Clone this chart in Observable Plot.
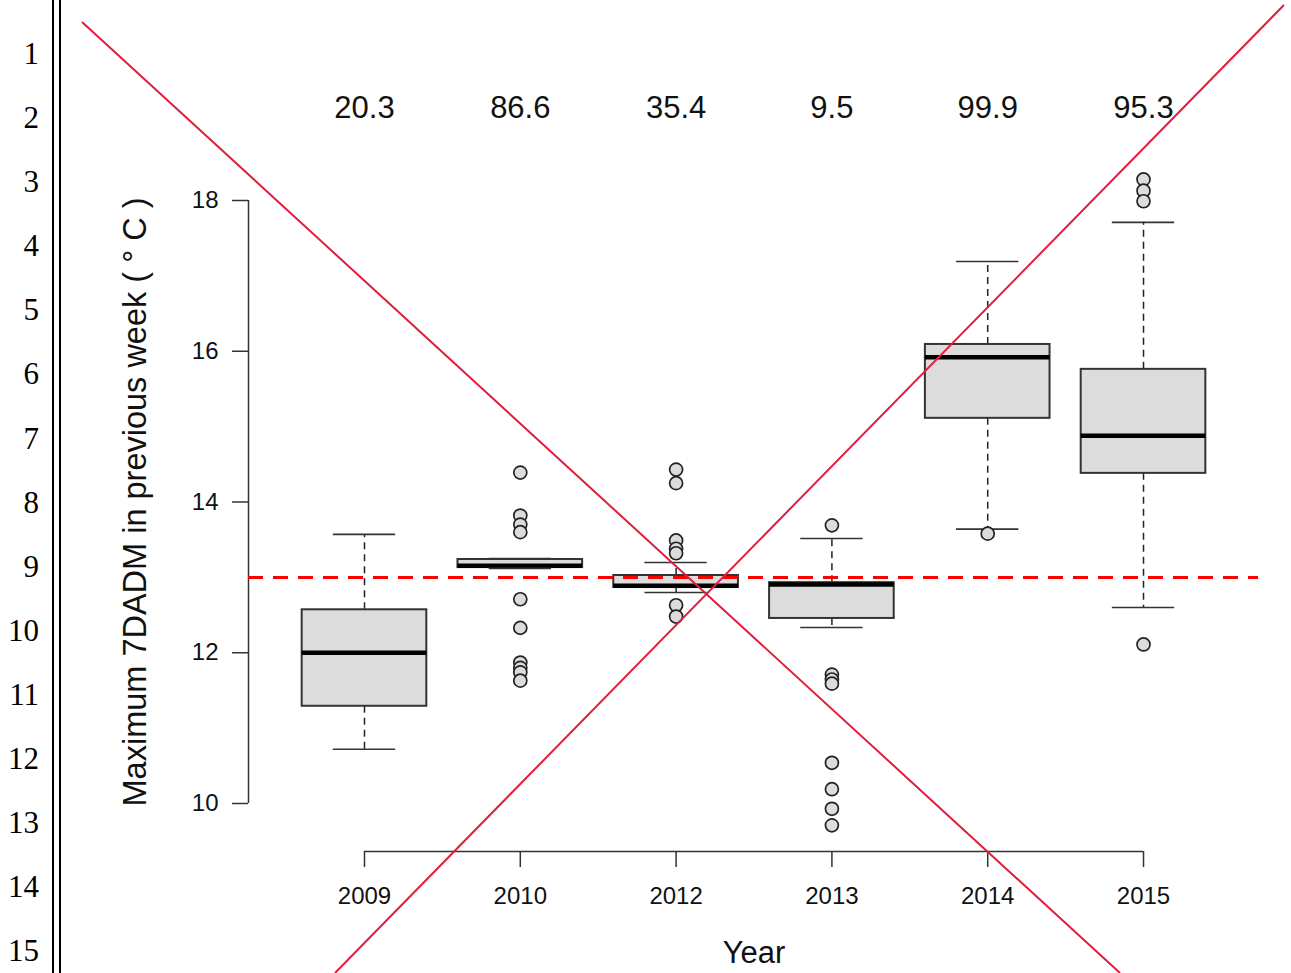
<!DOCTYPE html>
<html>
<head>
<meta charset="utf-8">
<script src="https://cdn.jsdelivr.net/npm/d3@7"></script>
<script src="https://cdn.jsdelivr.net/npm/@observablehq/plot@0.6"></script>
<style>
  html, body { margin: 0; padding: 0; background: #fff; }
  #page { position: relative; width: 1291px; height: 973px; overflow: hidden; background: #fff; }
  #chart { position: absolute; left: 0; top: 0; }
  #linenos { position: absolute; left: 0; top: 22px; width: 39px; font-family: "Liberation Serif", "Times New Roman", serif; font-size: 31px; text-align: right; color: #000; }
  #linenos div { height: 64.1px; line-height: 64.1px; }
  .vrule { position: absolute; top: 0; height: 973px; width: 2px; background: #000; }
  #overlay { position: absolute; left: 0; top: 0; pointer-events: none; }
</style>
</head>
<body>
<div id="page">
  <div id="chart"></div>
  <div id="linenos"></div>
  <div class="vrule" style="left:52px"></div>
  <div class="vrule" style="left:59px"></div>
</div>
<script>
// ---- data ----
const years = ["2009", "2010", "2012", "2013", "2014", "2015"];
const pctLabels = ["20.3", "86.6", "35.4", "9.5", "99.9", "95.3"];
const whiskerLo = [10.72, 13.12, 12.80, 12.335, 13.64, 12.60];
const q1 = [11.29, 13.13, 12.865, 12.455, 15.11, 14.38];
const median = [12.00, 13.155, 12.89, 12.905, 15.92, 14.88];
const q3 = [12.57, 13.237, 13.025, 12.93, 16.09, 15.76];
const whiskerHi = [13.57, 13.25, 13.197, 13.516, 17.19, 17.71];
const outliers2009 = [];
const outliers2010 = [14.39, 13.82, 13.70, 13.60, 12.71, 12.33, 11.87, 11.80, 11.74, 11.63];
const outliers2012 = [14.43, 14.25, 13.49, 13.38, 13.32, 12.63, 12.48];
const outliers2013 = [13.69, 11.71, 11.645, 11.59, 10.54, 10.19, 9.93, 9.71];
const outliers2014 = [13.58];
const outliers2015 = [18.28, 18.13, 17.99, 12.11];
const threshold = 13;
const yTicks = [10, 12, 14, 16, 18];
const yLabel = "Maximum 7DADM in previous week ( \u00b0 C )";
const xLabel = "Year";
const lineNumbers = [1, 2, 3, 4, 5, 6, 7, 8, 9, 10, 11, 12, 13, 14, 15];

// ---- layout constants ----
const xLo = 0.2555, xHi = 6.738;   // plot region in x units
const yLo = 9.363;                 // x-axis line position in y units
const pctY = 19.22;                // percent labels row

const boxes = years.map((y, i) => ({
  pos: i + 1, lo: whiskerLo[i], q1: q1[i], med: median[i], q3: q3[i], hi: whiskerHi[i]
}));
const outlierRows = [outliers2009, outliers2010, outliers2012, outliers2013, outliers2014, outliers2015]
  .flatMap((arr, i) => arr.map(v => ({pos: i + 1, v})));

const chart = Plot.plot({
  width: 1291,
  height: 973,
  marginLeft: 248,
  marginRight: 33,
  marginTop: 0,
  marginBottom: 122,
  style: {fontFamily: "'Liberation Sans', Arial, Helvetica, sans-serif", fontSize: "24px", background: "white", color: "#111"},
  x: {type: "linear", domain: [xLo, xHi], range: [248, 1258]},
  y: {type: "linear", domain: [10, 18], range: [803, 200]},
  marks: [
    // axes
    Plot.axisY({ticks: yTicks, tickSize: 16, tickPadding: 14, fontSize: 24, stroke: "#333", strokeWidth: 1.5, label: null}),
    Plot.ruleX([xLo], {y1: 10, y2: 18, stroke: "#333", strokeWidth: 1.5}),
    Plot.axisX({ticks: [1, 2, 3, 4, 5, 6], tickFormat: d => years[d - 1], tickSize: 16, tickPadding: 19, fontSize: 24, stroke: "#333", strokeWidth: 1.5, label: null}),
    Plot.ruleY([yLo], {x1: 1, x2: 6, stroke: "#333", strokeWidth: 1.5}),
    // whiskers
    Plot.ruleX(boxes, {x: "pos", y1: "q3", y2: "hi", stroke: "#222", strokeWidth: 1.5, strokeDasharray: "7,5"}),
    Plot.ruleX(boxes, {x: "pos", y1: "q1", y2: "lo", stroke: "#222", strokeWidth: 1.5, strokeDasharray: "7,5"}),
    // boxes
    Plot.rect(boxes, {x1: d => d.pos - 0.4, x2: d => d.pos + 0.4, y1: "q1", y2: "q3", fill: "#dcdcdc", stroke: "#333", strokeWidth: 2}),
    Plot.ruleY(boxes, {y: "med", x1: d => d.pos - 0.4, x2: d => d.pos + 0.4, stroke: "#000", strokeWidth: 4.5}),
    // staples
    Plot.ruleY(boxes, {y: "hi", x1: d => d.pos - 0.2, x2: d => d.pos + 0.2, stroke: "#333", strokeWidth: 1.6}),
    Plot.ruleY(boxes, {y: "lo", x1: d => d.pos - 0.2, x2: d => d.pos + 0.2, stroke: "#333", strokeWidth: 1.6}),
    // outliers
    Plot.dot(outlierRows, {x: "pos", y: "v", r: 6.5, fill: "#dcdcdc", stroke: "#222", strokeWidth: 1.7}),
    // threshold
    Plot.ruleY([threshold], {x1: xLo, x2: xHi, stroke: "#ff0000", strokeWidth: 3, strokeDasharray: "15,10"}),
    // labels
    Plot.text(pctLabels, {x: (d, i) => i + 1, y: pctY, text: d => d, fontSize: 31, fill: "#111"}),
    Plot.text([xLabel], {x: 3.5, y: yLo, dy: 102, text: d => d, fontSize: 31, fill: "#111"}),
    Plot.text([yLabel], {x: xLo, y: 14, dx: -113, rotate: -90, text: d => d, fontSize: 32.5, fill: "#111"})
  ]
});
document.getElementById("chart").appendChild(chart);

// line numbers of the document margin
const ln = d3.select("#linenos");
ln.selectAll("div").data(lineNumbers).join("div").text(d => d);

// red cross-out overlay
const crossLines = [[82, 22, 1120, 973], [335, 973, 1284, 5]];
const ov = d3.select("#page").append("svg").attr("id", "overlay").attr("width", 1291).attr("height", 973);
ov.selectAll("line").data(crossLines).join("line")
  .attr("x1", d => d[0]).attr("y1", d => d[1]).attr("x2", d => d[2]).attr("y2", d => d[3])
  .attr("stroke", "#e31c3d").attr("stroke-width", 2);
</script>
</body>
</html>
